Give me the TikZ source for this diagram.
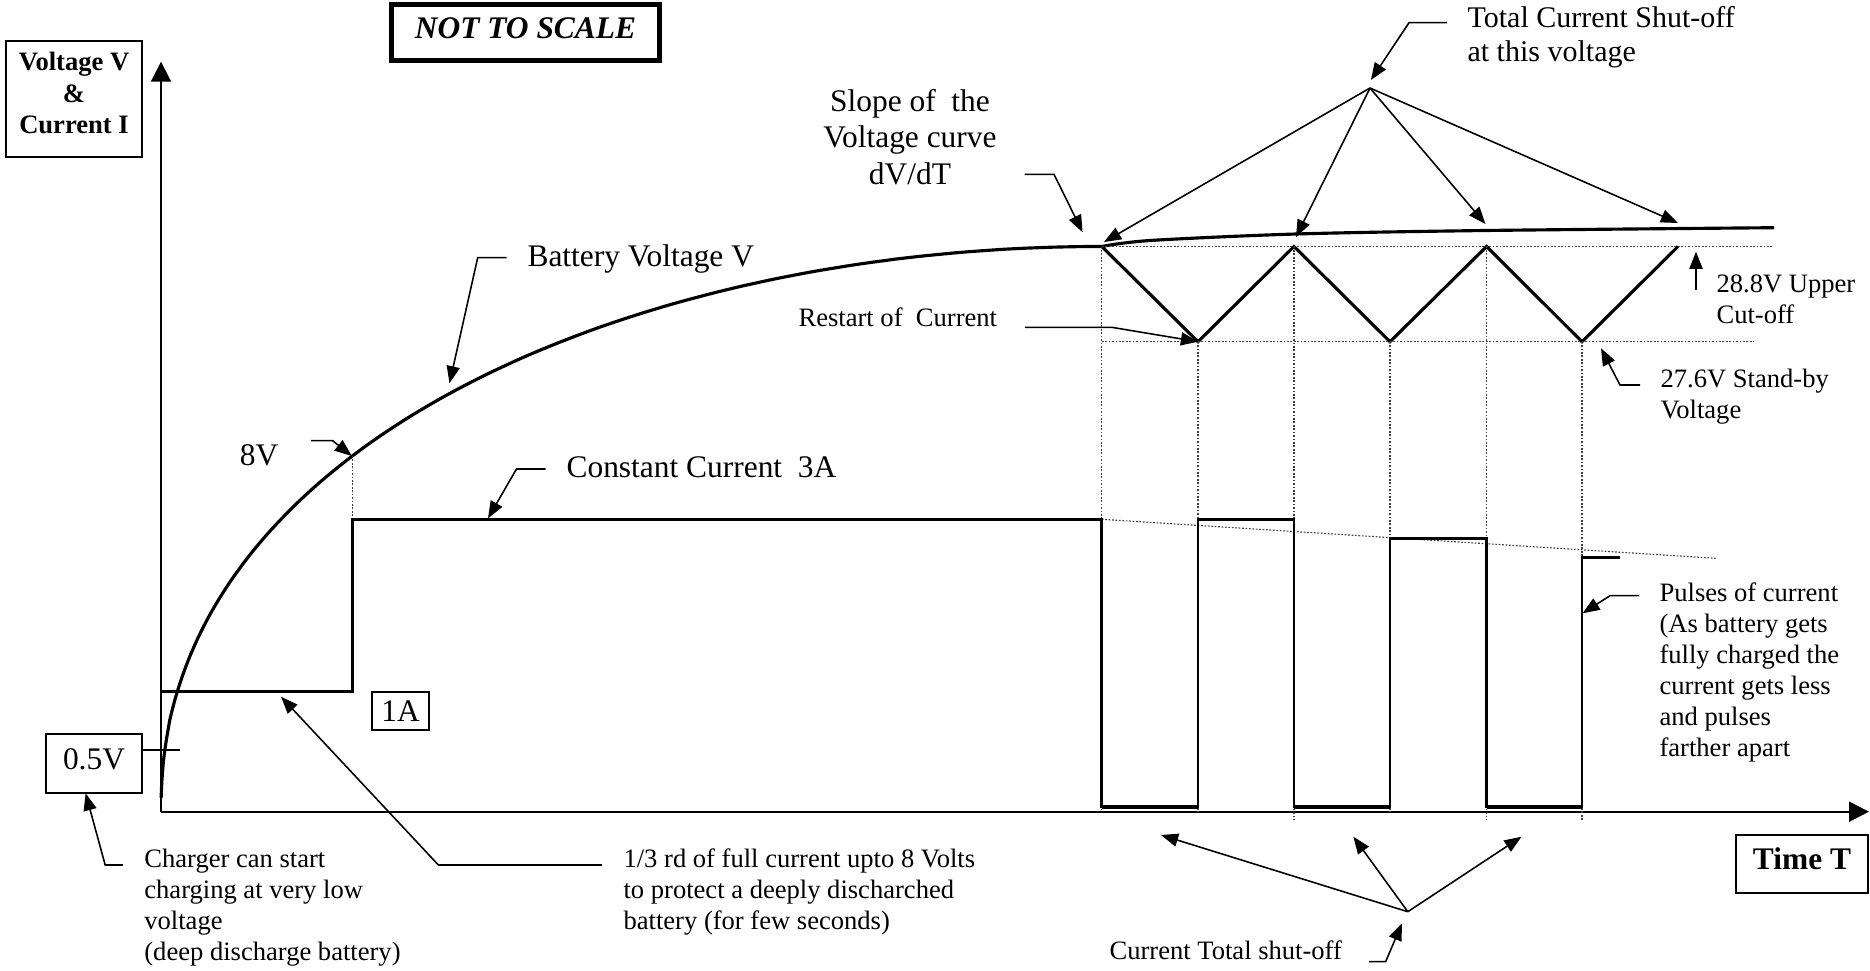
\documentclass[tikz,border=0pt]{standalone}
\usepackage{fontspec}
\setmainfont{Liberation Serif}
\usetikzlibrary{arrows.meta}

\tikzset{
  axisline/.style={line width=0.7pt,-{Triangle[length=7pt,width=7pt]}},
  vcurve/.style={line width=1.1pt},
  pulse/.style={line width=1pt},
  offline/.style={line width=1.5pt},
  guide/.style={black!75,line width=0.4pt,dash pattern=on 0.6pt off 0.6pt},
  leader/.style={line width=0.55pt,-{Triangle[length=6pt,width=4.6pt]}},
  box/.style={draw,line width=0.6pt,inner sep=0pt},
  bigtxt/.style={inner sep=0pt,font=\fontsize{11}{12.8}\selectfont},
  smalltxt/.style={inner sep=0pt,align=left,font=\fontsize{9.3}{10.8}\selectfont},
}

\begin{document}
\begin{tikzpicture}[x=0.35pt,y=-0.35pt]
	\useasboundingbox (0,0) rectangle (1870,970);

	% axes
	\coordinate (O)    at (161,811.7);
	\coordinate (ytop) at (161,61.7);
	\coordinate (xend) at (1869,811.7);
	\draw[axisline] (O) -- (ytop);
	\draw[axisline] (O) -- (xend);

	\node[box,minimum width=47.6pt,minimum height=40.6pt] (vbox) at (74,99) {};
	\node[inner sep=0pt,align=center,font=\bfseries\fontsize{9.3}{11}\selectfont]
		(vtext) at (74,93) {Voltage V\\\&\\Current I};
	\node[box,line width=1.8pt,minimum width=93.8pt,minimum height=19.8pt] (scalebox) at (525.5,32.5) {};
	\node[inner sep=0pt,font=\bfseries\itshape\fontsize{11}{13}\selectfont]
		(scaletext) at (525.5,28) {NOT TO SCALE};
	\node[box,minimum width=46.2pt,minimum height=20.4pt] (tbox) at (1802,864) {};
	\node[inner sep=0pt,font=\bfseries\fontsize{11}{13}\selectfont] (ttext) at (1802,859) {Time T};
	\node[box,line width=0.7pt,minimum width=33.9pt,minimum height=20.7pt] (halfv) at (94,763.8) {};
	\node[inner sep=0pt,font=\fontsize{11}{13}\selectfont] (halfvtext) at (94,759) {0.5V};
	\node[box,minimum width=20pt,minimum height=13.3pt,
	      font=\fontsize{11}{13}\selectfont] (onea) at (400.5,711) {1A};

	% 0.5V tick
	\coordinate (tickR) at (180,750);
	\draw[line width=0.7pt] (halfv.east |- tickR) -- (tickR);

	% battery voltage
	\draw[vcurve] plot[domain=89:0,samples=120,variable=\t]
		({1101.8-940.8*sin(\t)},{811.7-565.2*cos(\t)^0.92});
	\draw[vcurve] plot[smooth,tension=0.5] coordinates {(1101.8,246.5) (1150,240.5)
		(1296,234) (1485,230.5) (1774,227.7)};

	\coordinate (z0) at (1101.8,246.5);
	\coordinate (z1) at (1198,341.7);
	\coordinate (z2) at (1294,246.5);
	\coordinate (z3) at (1390,341.7);
	\coordinate (z4) at (1486.6,246.5);
	\coordinate (z5) at (1582,341.7);
	\coordinate (z6) at (1678,246.5);
	\draw[vcurve] (z0) -- (z1) -- (z2) -- (z3) -- (z4) -- (z5) -- (z6);

	\draw[guide] (z0) -- (1772.6,246.5);
	\draw[guide] (1101.8,341.7) -- (1754.4,341.7);
	\draw[guide] (z0) -- (1101.8,811.7);
	\draw[guide] (z1) -- (1198,811.7);
	\draw[guide] (z2) -- (1294,820);
	\draw[guide] (z3) -- (1390,811.7);
	\draw[guide] (z4) -- (1486.6,820);
	\draw[guide] (z5) -- (1582,820);
	\draw[guide] (352.3,456) -- (352.3,519);
	\draw[guide] (1101.8,519.3) -- (1715.7,558.3);

	% current
	\draw[pulse] (161,691.7) -- (352.7,691.7) -- (352.7,519.3) -- (1101.8,519.3)
		-- (1101.8,806.7) -- (1198,806.7) -- (1198,519.3) -- (1294,519.3)
		-- (1294,806.7) -- (1390,806.7) -- (1390,538.3) -- (1486.6,538.3)
		-- (1486.6,806.7) -- (1582,806.7) -- (1582,557.7) -- (1619.7,557.7);
	\draw[offline] (1101.8,806.7) -- (1198,806.7);
	\draw[offline] (1294,806.7) -- (1390,806.7);
	\draw[offline] (1486.6,806.7) -- (1582,806.7);

	% texts
	\node[bigtxt,anchor=west] (bvlabel) at (527,259) {Battery Voltage V};
	\node[bigtxt,anchor=west] (cclabel) at (566,467.3) {Constant Current~ 3A};
	\node[bigtxt] (eightlabel) at (259,455) {8V};
	\node[bigtxt,align=center] (slopelabel) at (910,137) {Slope of~ the\\Voltage curve\\dV/dT};
	\node[inner sep=0pt,anchor=west,align=left,font=\fontsize{10.5}{11.9}\selectfont]
		(totallabel) at (1467,37) {Total Current Shut-off\\at this voltage};
	\node[smalltxt,anchor=west] (restartlabel) at (798,317) {Restart of~ Current};
	\node[smalltxt,anchor=west] (upperlabel) at (1716,299) {28.8V Upper\\Cut-off};
	\node[smalltxt,anchor=west] (standbylabel) at (1660,397) {27.6V Stand-by\\Voltage};
	\node[smalltxt,anchor=west] (pulselabel) at (1659,672.5) {Pulses of current\\(As battery gets\\fully charged the\\current gets less\\and pulses\\farther apart};
	\node[smalltxt,anchor=west] (chargerlabel) at (143.8,907.7) {Charger can start\\charging at very low\\voltage\\(deep discharge battery)};
	\node[smalltxt,anchor=west] (thirdlabel) at (623,892) {1/3 rd of full current upto 8 Volts\\to protect a deeply discharched\\battery (for few seconds)};
	\node[smalltxt,anchor=west] (offlabel) at (1109,950) {Current Total shut-off};

	% leaders
	\coordinate (bvA) at (506.7,257.7);
	\coordinate (bvB) at (477.7,257.7);
	\coordinate (bvC) at (449.5,383.3);
	\draw[leader] (bvA) -- (bvB) -- (bvC);

	\coordinate (eightA) at (311,440.7);
	\coordinate (eightB) at (332.6,440.7);
	\coordinate (eightC) at (351.8,456);
	\draw[leader] (eightA) -- (eightB) -- (eightC);

	\coordinate (ccA) at (545.5,469);
	\coordinate (ccB) at (516.5,469);
	\coordinate (ccC) at (488,518.3);
	\draw[leader] (ccA) -- (ccB) -- (ccC);

	\coordinate (slopeA) at (1024.5,174.3);
	\coordinate (slopeB) at (1054,174.3);
	\coordinate (slopeC) at (1082.6,232.3);
	\draw[leader] (slopeA) -- (slopeB) -- (slopeC);

	\coordinate (totA) at (1447,22.7);
	\coordinate (totB) at (1409,22.7);
	\coordinate (totC) at (1370.9,80);
	\draw[leader] (totA) -- (totB) -- (totC);
	\coordinate (apex) at (1370,88);
	\coordinate (hit1) at (1104,242);
	\coordinate (hit2) at (1296,237);
	\coordinate (hit3) at (1485.4,224);
	\coordinate (hit4) at (1678,223);
	\draw[leader] (apex) -- (hit1);
	\draw[leader] (apex) -- (hit2);
	\draw[leader] (apex) -- (hit3);
	\draw[leader] (apex) -- (hit4);

	\coordinate (rsA) at (1025,327.3);
	\coordinate (rsB) at (1111.7,327.3);
	\draw[leader] (rsA) -- (rsB) -- (z1);

	\coordinate (sbA) at (1640,385);
	\coordinate (sbB) at (1620,385);
	\coordinate (sbC) at (1601,348.3);
	\draw[leader] (sbA) -- (sbB) -- (sbC);

	\coordinate (upA) at (1696,290);
	\coordinate (upC) at (1696,251.7);
	\draw[leader] (upA) -- (upC);

	\coordinate (puA) at (1639,595.7);
	\coordinate (puB) at (1610,595.7);
	\coordinate (puC) at (1582.5,613.3);
	\draw[leader] (puA) -- (puB) -- (puC);

	\coordinate (chA) at (122.8,865);
	\coordinate (chB) at (105.2,865);
	\coordinate (chC) at (85.6,793.3);
	\draw[leader] (chA) -- (chB) -- (chC);

	\coordinate (thA) at (601.9,865);
	\coordinate (thB) at (438.4,865);
	\coordinate (thC) at (281,696.7);
	\draw[leader] (thA) -- (thB) -- (thC);

	\coordinate (hub) at (1407.8,911.7);
	\coordinate (gap1) at (1161,835);
	\coordinate (gap2) at (1353.4,836.7);
	\coordinate (gap3) at (1521.5,836.7);
	\draw[leader] (hub) -- (gap1);
	\draw[leader] (hub) -- (gap2);
	\draw[leader] (hub) -- (gap3);
	\coordinate (offA) at (1369,961.7);
	\coordinate (offB) at (1385.6,961.7);
	\coordinate (offC) at (1402,923.3);
	\draw[leader] (offA) -- (offB) -- (offC);
\end{tikzpicture}
\end{document}
